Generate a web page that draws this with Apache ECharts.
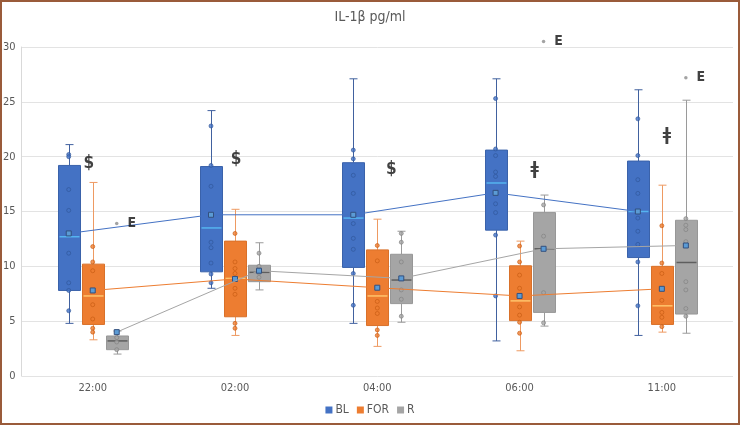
<!DOCTYPE html>
<html><head><meta charset="utf-8">
<script src="https://cdn.jsdelivr.net/npm/echarts@6/dist/echarts.min.js"></script>
<style>
html,body{margin:0;padding:0;background:#fff;}
#chart{position:absolute;left:0;top:0;width:740px;height:425px;}
#frame{position:absolute;left:0;top:0;width:740px;height:425px;box-sizing:border-box;border:2px solid #9A5B3A;pointer-events:none;}
</style></head><body>
<div id="chart"></div><div id="frame"></div>
<script>
// ---------- data ----------
const categories = ['22:00', '02:00', '04:00', '06:00', '11:00'];
const yTicks = [0, 5, 10, 15, 20, 25, 30];

const blMin  = [4.8, 8.0, 4.8, 3.2, 3.7];
const blQ1   = [7.8, 9.5, 9.9, 13.3, 10.8];
const blMed  = [12.7, 13.5, 14.4, 17.6, 15.0];
const blQ3   = [19.2, 19.1, 19.45, 20.6, 19.6];
const blMax  = [21.1, 24.2, 27.1, 27.1, 26.1];
const blMean = [13.0, 14.7, 14.7, 16.7, 15.0];

const forMin  = [3.3, 3.7, 2.7, 2.3, 4.0];
const forQ1   = [4.7, 5.4, 4.6, 5.05, 4.7];
const forMed  = [7.3, 8.9, 7.3, 6.85, 6.4];
const forQ3   = [10.2, 12.3, 11.5, 10.05, 10.0];
const forMax  = [17.65, 15.2, 14.3, 12.3, 17.4];
const forMean = [7.8, 8.85, 8.05, 7.3, 7.95];

const rMin  = [2.0, 7.85, 4.9, 4.55, 3.9];
const rQ1   = [2.4, 8.6, 6.6, 5.8, 5.65];
const rMed  = [3.2, 9.45, 8.75, 11.6, 10.35];
const rQ3   = [3.65, 10.1, 11.1, 14.9, 14.2];
const rMax  = [4.1, 12.15, 13.2, 16.5, 25.15];
const rMean = [4.0, 9.6, 8.9, 11.6, 11.9];

const blPoints = [
  [20.2, 20.0, 17.0, 15.1, 11.2, 8.5, 7.8, 5.95],
  [22.8, 19.2, 17.3, 12.2, 11.7, 10.3, 9.3, 8.5],
  [20.6, 19.8, 18.3, 16.65, 13.9, 12.55, 11.55, 9.35, 6.45],
  [25.3, 20.7, 20.1, 18.6, 18.2, 15.7, 14.9, 12.85, 7.3],
  [23.45, 20.1, 17.9, 16.65, 14.4, 13.2, 12.0, 10.4, 6.4]
];
const forPoints = [
  [11.8, 10.4, 9.6, 6.5, 5.2, 4.35, 4.0],
  [13.0, 10.4, 9.8, 9.35, 8.0, 7.45, 4.8, 4.35],
  [11.9, 10.5, 6.8, 6.2, 5.7, 4.2, 3.7],
  [11.85, 10.4, 9.2, 8.0, 6.3, 5.55, 4.9, 3.9],
  [13.7, 10.3, 9.35, 6.9, 5.8, 5.35, 4.5]
];
const rPoints = [
  [3.5, 3.1, 2.4],
  [11.2, 10.0, 9.4, 9.0],
  [13.0, 12.2, 10.4, 7.85, 7.0, 5.45],
  [15.6, 12.75, 7.6, 4.85],
  [14.35, 13.75, 13.35, 12.25, 8.6, 7.85, 6.15, 5.45]
];

// outliers (R series) marked "E"
const outlierCats = [0, 3, 4];
const outlierVals = [13.9, 30.5, 27.2];
const outlierText = 'E';

// significance annotations
const annoCats  = [0, 1, 2, 3, 4];
const annoVals  = [19.4, 19.75, 18.8, 18.8, 21.9];
const annoTexts = ['$', '$', '$', 'ǂ', 'ǂ'];

// ---------- styles ----------
const annoDx = [-4, 1, 14, 15, 5];
const BOX_W = 22, CAP_W = 8, STEP = 24;
const FONT = '"Liberation Sans Narrow", "DejaVu Sans Condensed", "Noto Sans", sans-serif';
const styles = {
  BL:  {fill: '#4472C4', border: '#3A62AA', whisker: '#41619F', median: '#55B4F0', line: '#4472C4', pt: '#2F5597'},
  FOR: {fill: '#ED7D31', border: '#D9712A', whisker: '#EE9A62', median: '#FFC46B', line: '#ED7D31', pt: '#C55A11'},
  R:   {fill: '#A5A5A5', border: '#979797', whisker: '#9A9A9A', median: '#5E5E5E', line: '#A5A5A5', pt: '#7F7F7F'}
};

// ---------- build ----------
function boxData(mn, q1, md, q3, mx) {
  return categories.map((c, i) => [i, mn[i], q1[i], md[i], q3[i], mx[i]]);
}
function meanData(m) {
  return categories.map((c, i) => [i, m[i], i + 1 < m.length ? m[i + 1] : '-']);
}
function pointData(p) {
  const out = [];
  p.forEach((arr, i) => arr.forEach(v => out.push([i, v])));
  return out;
}
function boxRenderer(offset, st) {
  return function (params, api) {
    const c = api.value(0);
    const x = Math.round(api.coord([c, 0])[0] + offset) + 0.5;
    const Y = k => api.coord([c, api.value(k)])[1];
    const yMin = Y(1), yQ1 = Y(2), yMed = Y(3), yQ3 = Y(4), yMax = Y(5);
    const hw = BOX_W / 2, cw = CAP_W / 2;
    const ws = {stroke: st.whisker, lineWidth: 1};
    return {type: 'group', children: [
      {type: 'line', shape: {x1: x, y1: yMax, x2: x, y2: yQ3}, style: ws},
      {type: 'line', shape: {x1: x, y1: yQ1, x2: x, y2: yMin}, style: ws},
      {type: 'line', shape: {x1: x - cw, y1: yMax, x2: x + cw, y2: yMax}, style: ws},
      {type: 'line', shape: {x1: x - cw, y1: yMin, x2: x + cw, y2: yMin}, style: ws},
      {type: 'rect', shape: {x: x - hw, y: yQ3, width: BOX_W, height: yQ1 - yQ3},
        style: {fill: st.fill, stroke: st.border, lineWidth: 1}},
      {type: 'line', shape: {x1: x - hw + 1, y1: yMed, x2: x + hw - 1, y2: yMed},
        style: {stroke: st.median, lineWidth: 1.5}}
    ]};
  };
}
function meanRenderer(offset, st) {
  return function (params, api) {
    const c = api.value(0);
    const p = api.coord([c, api.value(1)]);
    p[0] += offset;
    const children = [];
    const nm = api.value(2);
    if (!isNaN(nm)) {
      const q = api.coord([c + 1, nm]);
      q[0] += offset;
      children.push({type: 'line', shape: {x1: p[0], y1: p[1], x2: q[0], y2: q[1]},
        style: {stroke: st.line, lineWidth: 1}});
    }
    children.push({type: 'rect', shape: {x: p[0] - 2.5, y: p[1] - 2.5, width: 5, height: 5},
      style: {fill: '#5B9BD5', stroke: '#33507E', lineWidth: 1}});
    return {type: 'group', children};
  };
}

const groups = [
  {name: 'BL', off: -STEP, box: boxData(blMin, blQ1, blMed, blQ3, blMax), mean: meanData(blMean), pts: pointData(blPoints)},
  {name: 'FOR', off: 0, box: boxData(forMin, forQ1, forMed, forQ3, forMax), mean: meanData(forMean), pts: pointData(forPoints)},
  {name: 'R', off: STEP, box: boxData(rMin, rQ1, rMed, rQ3, rMax), mean: meanData(rMean), pts: pointData(rPoints)}
];

const series = [];
groups.forEach(g => {
  const st = styles[g.name];
  series.push({
    name: g.name, type: 'custom', renderItem: boxRenderer(g.off, st),
    encode: {x: 0, y: [1, 2, 3, 4, 5]}, data: g.box, z: 2, clip: false, silent: true,
    itemStyle: {color: st.fill}
  });
});
groups.forEach(g => {
  const st = styles[g.name];
  series.push({
    name: g.name + '-pts', type: 'scatter', data: g.pts, symbol: 'circle', symbolSize: 4,
    symbolOffset: [g.off, 0], z: 3, silent: true, clip: false,
    itemStyle: {color: st.fill, borderColor: st.pt, borderWidth: 0.8}
  });
});
groups.forEach(g => {
  const st = styles[g.name];
  series.push({
    name: g.name + '-mean', type: 'custom', renderItem: meanRenderer(g.off, st),
    encode: {x: 0, y: 1}, data: g.mean, z: 4, clip: false, silent: true
  });
});
// outliers
series.push({
  name: 'outliers', type: 'scatter', z: 5, silent: true, clip: false,
  data: outlierCats.map((c, i) => [c, outlierVals[i]]),
  symbol: 'circle', symbolSize: 3.5, symbolOffset: [STEP, 0],
  itemStyle: {color: '#8C8C8C'},
  label: {show: true, formatter: outlierText, position: 'inside', offset: [15, 0],
    fontFamily: FONT, fontSize: 14, fontWeight: 'bold', color: '#111'}
});
// annotations
series.push({
  name: 'anno', type: 'scatter', z: 5, silent: true, clip: false,
  data: annoCats.map((c, i) => ({value: [c, annoVals[i]],
    label: {formatter: annoTexts[i], offset: [annoDx[i], 0]}})),
  symbolSize: 0,
  label: {show: true, position: 'inside', fontFamily: FONT, fontSize: 17, fontWeight: 'bold', color: '#111'}
});

const chart = echarts.init(document.getElementById('chart'), null, {renderer: 'canvas'});
chart.setOption({
  animation: false,
  backgroundColor: '#fff',
  title: {text: 'IL-1β pg/ml', left: 'center', top: 5,
    textStyle: {fontFamily: FONT, fontSize: 14, fontWeight: 'normal', color: '#595959'}},
  legend: {data: ['BL', 'FOR', 'R'], left: 'center', top: 399, icon: 'rect', itemWidth: 7, itemHeight: 7,
    itemGap: 8, selectedMode: false,
    textStyle: {fontFamily: FONT, fontSize: 12, color: '#595959', padding: [0, 0, 0, -2]}},
  grid: {left: 21, right: 7, top: 47, bottom: 49, containLabel: false},
  xAxis: {type: 'category', data: categories,
    axisLine: {show: false}, axisTick: {show: false},
    axisLabel: {fontFamily: FONT, fontSize: 11, color: '#595959', margin: 7},
    splitLine: {show: false}},
  yAxis: {type: 'value', min: yTicks[0], max: yTicks[yTicks.length - 1], interval: 5,
    axisLine: {show: true, lineStyle: {color: '#D9D9D9'}}, axisTick: {show: false},
    axisLabel: {fontFamily: FONT, fontSize: 11, color: '#595959', margin: 6},
    splitLine: {show: true, lineStyle: {color: '#E3E3E3', width: 1}}},
  series
});
</script>
</body></html>
